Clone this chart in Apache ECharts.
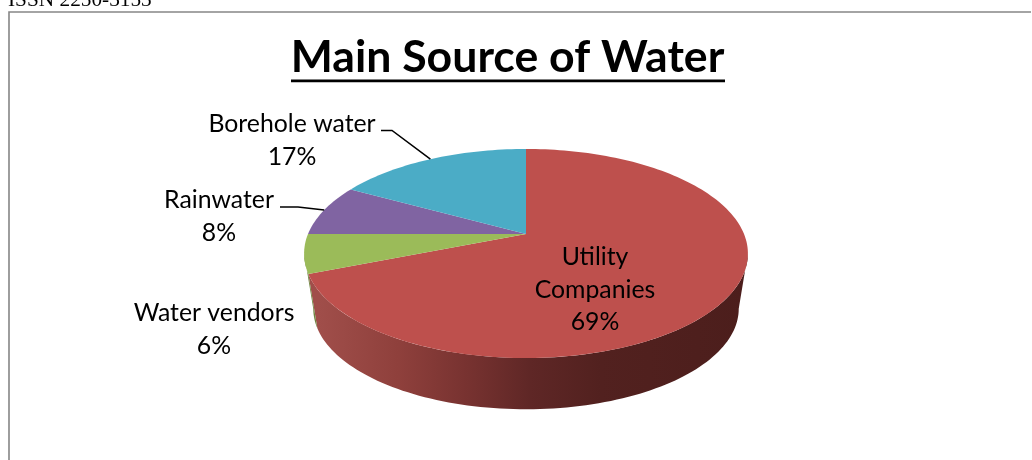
<!DOCTYPE html>
<html>
<head>
<meta charset="utf-8">
<style>html,body{margin:0;padding:0;background:#fff}#chart{width:1032px;height:460px}</style>
<script src="https://cdn.jsdelivr.net/npm/echarts@6/dist/echarts.min.js"></script>
</head>
<body>
<div id="chart"></div>
<script>
// Shares of each water source, in clockwise order from twelve o'clock.
const categories = ['Utility\nCompanies', 'Water vendors', 'Rainwater', 'Borehole water'];
const shares = [69, 6, 8, 17];
const sliceColors = ['#BE504D', '#9BBB59', '#8064A2', '#4BACC6'];
const wallColors = ['#8A3A37', '#6F8540', '#5A4672', '#35798C'];

// Tilted-disc projection of the pie.
const disc = { cx: 526, topY: 234, bottomY: 290, rxTop: 218, rxBottom: 209, ryTop: 100.9, ryBottom: 97, tilt: 0.1866 };
// Label centres (first line) and leader elbows, per slice.
const labelAt = [[595, 257], [214, 313], [219, 200], [292, 124.5]];
const leaders = [null, null, [[280, 207], [298, 207]], [[381, 130.5], [392, 130.5]]];

function rim(deg, level) {
  const t = deg * Math.PI / 180, u = Math.sin(t), v = Math.cos(t), d = 1 + disc.tilt * v;
  return level === 0
    ? [disc.cx + disc.rxTop * u / d, disc.topY - disc.ryTop * v / d]
    : [disc.cx + disc.rxBottom * u / d, disc.bottomY - disc.ryBottom * v / d];
}
function arc(from, to, level) {
  const pts = [], n = Math.max(2, Math.ceil(Math.abs(to - from) / 1.5));
  for (let i = 0; i <= n; i++) pts.push(rim(from + (to - from) * i / n, level));
  return pts;
}

const total = shares.reduce((a, b) => a + b, 0);
const wallFrom = 100.8, wallTo = 259.2;
const sideShade = {
  type: 'linear', x: 306, y: 0, x2: 745, y2: 0, global: true,
  colorStops: [
    { offset: 0.03, color: '#A04E4A' }, { offset: 0.21, color: '#8F403C' },
    { offset: 0.37, color: '#773230' }, { offset: 0.51, color: '#5F2726' },
    { offset: 0.67, color: '#52211F' }, { offset: 1, color: '#4C1E1C' }
  ]
};

function renderSlice(params, api) {
  const i = params.dataIndex;
  const before = shares.slice(0, i).reduce((a, b) => a + b, 0);
  const start = before / total * 360, end = (before + api.value(1)) / total * 360, mid = (start + end) / 2;
  const children = [];

  // Side wall: only the part of the slice that faces the viewer.
  const a = Math.max(start, wallFrom), b = Math.min(end, wallTo);
  if (b > a) {
    children.push({
      type: 'polygon',
      shape: { points: arc(a, b, 0).concat(arc(b, a, 1)) },
      style: { fill: i === 0 ? sideShade : wallColors[i] }
    });
  }
  // Top face.
  children.push({
    type: 'polygon',
    shape: { points: [[disc.cx, disc.topY]].concat(arc(start, end, 0)) },
    style: { fill: sliceColors[i] }
  });
  // Leader line from the label to the middle of the slice's rim.
  if (leaders[i]) {
    children.push({
      type: 'polyline',
      shape: { points: leaders[i].concat([rim(mid, 0)]) },
      style: { stroke: '#000', lineWidth: 1.5, fill: null }
    });
  }
  // Data label, one text per line.
  const lines = (categories[i] + '\n' + api.value(1) + '%').split('\n');
  lines.forEach((line, k) => {
    children.push({
      type: 'text',
      style: {
        text: line, x: labelAt[i][0], y: labelAt[i][1] + k * 32.7,
        textAlign: 'center', textVerticalAlign: 'middle',
        font: '24.8px Lato', fill: '#000'
      }
    });
  });
  return { type: 'group', children };
}

const chart = echarts.init(document.getElementById('chart'), null, { renderer: 'canvas' });
chart.setOption({
  animation: false,
  backgroundColor: '#fff',
  title: {
    text: 'Main Source of Water', left: 502.5, top: 30, textAlign: 'center',
    textStyle: { fontFamily: 'Lato', fontWeight: 'bold', fontSize: 44.6, color: '#000' }
  },
  graphic: [
    { type: 'text', style: { text: 'ISSN 2250-3153', x: 8, y: -10, font: '21.3px "Liberation Serif"', fill: '#000' } },
    { type: 'polyline', shape: { points: [[9, 460], [9, 12], [1031, 12]] }, style: { stroke: '#868686', lineWidth: 1.6, fill: null } },
    { type: 'rect', shape: { x: 291, y: 79.5, width: 434, height: 2.8 }, style: { fill: '#000' } }
  ],
  series: [{
    type: 'custom',
    coordinateSystem: 'none',
    renderItem: renderSlice,
    data: shares.map((s, i) => [i, s])
  }]
});
</script>
</body>
</html>
